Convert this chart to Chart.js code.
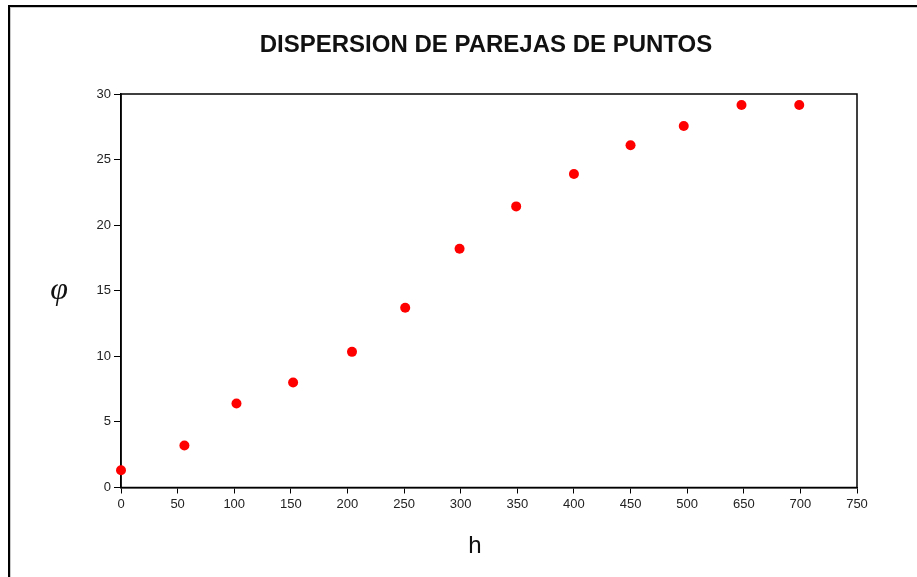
<!DOCTYPE html>
<html>
<head>
<meta charset="utf-8">
<script src="https://cdn.jsdelivr.net/npm/chart.js@4/dist/chart.umd.min.js"></script>
<style>
  html, body { margin: 0; padding: 0; background: #fff; }
  #wrap { position: relative; width: 917px; height: 577px; }
  canvas { display: block; }
</style>
</head>
<body>
<div id="wrap"><canvas id="c" width="917" height="577"></canvas></div>
<script>
// ---- data ----
const chartTitle = 'DISPERSION DE PAREJAS DE PUNTOS';
const xTitle = 'h';
const yTitle = 'φ';
// x tick labels as printed on the reference axis (evenly spaced)
const xTickLabels = ['0','50','100','150','200','250','300','350','400','450','500','650','700','750'];
// point positions along the (evenly spaced) axis, in axis units
const hPositions = [0, 56, 102, 152, 204, 251, 299, 349, 400, 450, 497, 548, 599];
const phiValues  = [1.32, 3.2, 6.41, 8.01, 10.34, 13.7, 18.2, 21.43, 23.9, 26.09, 27.56, 29.16, 29.16];
const yTicks = [0, 5, 10, 15, 20, 25, 30];

const points = hPositions.map((x, i) => ({ x: x, y: phiValues[i] }));

const decor = {
  id: 'decor',
  beforeDraw(chart) {
    const ctx = chart.ctx;
    ctx.save();
    ctx.fillStyle = '#fff';
    ctx.fillRect(0, 0, chart.width, chart.height);
    // outer frame (left and top)
    ctx.fillStyle = '#000';
    ctx.fillRect(8, 5, 2, chart.height - 5);
    ctx.fillRect(8, 5, chart.width - 8, 2);
    ctx.fillStyle = '#c8c8c8';
    ctx.fillRect(10, 7, 1, chart.height - 7);
    ctx.fillRect(10, 7, chart.width - 10, 1);
    ctx.restore();
  },
  beforeDatasetsDraw(chart) {
    const ctx = chart.ctx;
    const a = chart.chartArea;
    ctx.save();
    ctx.strokeStyle = '#000';
    ctx.lineWidth = 1.5;
    ctx.strokeRect(a.left, a.top, a.right - a.left, a.bottom - a.top);
    ctx.restore();
  },
  afterDatasetsDraw(chart) {
    const ctx = chart.ctx;
    ctx.save();
    // title
    ctx.fillStyle = '#111';
    ctx.textAlign = 'center';
    ctx.textBaseline = 'alphabetic';
    ctx.font = 'bold 24px "Liberation Sans", Arial, sans-serif';
    ctx.fillText(chartTitle, 486, 52);
    // x axis title
    ctx.font = '24px "Liberation Sans", Arial, sans-serif';
    ctx.fillText(xTitle, 475, 553);
    // y axis title
    ctx.font = 'italic 32px "Liberation Serif", "Times New Roman", serif';
    ctx.fillText(yTitle, 59, 299);
    ctx.restore();
  }
};

new Chart(document.getElementById('c'), {
  type: 'scatter',
  data: {
    datasets: [{
      data: points,
      backgroundColor: '#ff0000',
      borderColor: '#ff0000',
      borderWidth: 0,
      pointRadius: 5,
      pointHoverRadius: 5,
      clip: false
    }]
  },
  options: {
    responsive: false,
    animation: false,
    events: [],
    layout: { padding: { left: 0, right: 60, top: 94, bottom: 0 } },
    plugins: {
      legend: { display: false },
      title: { display: false },
      tooltip: { enabled: false }
    },
    scales: {
      x: {
        type: 'linear',
        min: 0,
        max: 650,
        afterFit(scale) { scale.height = 89.5; },
        afterBuildTicks(scale) {
          scale.ticks = xTickLabels.map((_, i) => ({ value: i * 50 }));
        },
        ticks: {
          autoSkip: false,
          maxRotation: 0,
          padding: 3,
          color: '#222',
          font: { family: '"Liberation Sans", Arial, sans-serif', size: 13 },
          callback: (v, i) => xTickLabels[i]
        },
        grid: { drawOnChartArea: false, drawTicks: true, tickLength: 6, color: '#000', lineWidth: 1 },
        border: { display: true, color: '#000', width: 1.5 }
      },
      y: {
        min: 0,
        max: 30,
        afterFit(scale) { scale.width = 121; },
        afterBuildTicks(scale) {
          scale.ticks = yTicks.map(v => ({ value: v }));
        },
        ticks: {
          padding: 3,
          color: '#222',
          font: { family: '"Liberation Sans", Arial, sans-serif', size: 13 }
        },
        grid: { drawOnChartArea: false, drawTicks: true, tickLength: 7, color: '#000', lineWidth: 1 },
        border: { display: true, color: '#000', width: 1.5 }
      }
    }
  },
  plugins: [decor]
});
</script>
</body>
</html>
